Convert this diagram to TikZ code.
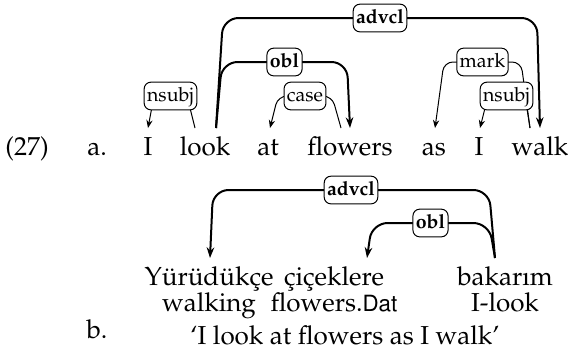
\documentclass[tikz,border=0pt]{standalone}
\usepackage[T1]{fontenc}
\usepackage{mathpazo}
\usepackage[scaled=0.86]{helvet}
\usetikzlibrary{arrows.meta,calc}

\newcommand{\wordsize}{\fontsize{11.7}{14}\selectfont}
\newcommand{\labsize}{\fontsize{8.8}{10}\selectfont}

\tikzset{
  word/.style={anchor=base, inner sep=0pt, font=\wordsize},
  deprel/.style={draw, fill=white, rounded corners=3pt, line width=0.45pt,
    inner xsep=1.3pt, inner ysep=1.3pt, text height=1.6ex, text depth=0.5ex, font=\labsize},
  heavy/.style={line width=0.9pt, rounded corners=7pt, -{Stealth[length=4.8pt,width=3.4pt]}},
  light/.style={line width=0.45pt, rounded corners=4pt},
  tip/.style={-{Stealth[length=3.6pt,width=2.8pt]}}
}

\begin{document}
\begin{tikzpicture}[x=0.45pt,y=-0.45pt]
    \useasboundingbox (0,0) rectangle (568,353);

    % Example (a): the words
    \node[word] (ex) at (27,155) {(27)};
    \node[word] (exa) at (97,155) {a.};
    \node[word] (i1) at (148,155) {I};
    \node[word] (look) at (205,155) {look};
    \node[word] (at) at (268,155) {at};
    \node[word] (flowers) at (350,155) {flowers};
    \node[word] (as) at (434,155) {as};
    \node[word] (i2) at (479,155) {I};
    \node[word] (walk) at (540,155) {walk};

    % Example (a): light arcs
    \draw[light,tip] ($(look.base)+(-10,-27)$) -- (187,96) -- node[deprel]{nsubj} (154,96) -- ($(i1.base)+(0,-27)$);
    \draw[light,tip] ($(flowers.base)+(-9,-27)$) -- (332,96) -- node[deprel]{case} (278,96) -- ($(at.base)+(2,-27)$);
    \draw[light,tip] ($(walk.base)+(-10,-27)$) -- (521,62) -- node[deprel]{mark} (444,62) -- ($(as.base)+(1,-27)$);
    \draw[light,tip] ($(walk.base)+(-10,-27)$) -- (525,96) -- node[deprel]{nsubj} (488,96) -- ($(i2.base)+(1,-27)$);

    % Example (a): heavy arcs
    \draw[heavy] ($(look.base)+(11,-27)$) -- (222,62) -- node[deprel]{\textbf{obl}} (347,62) -- ($(flowers.base)+(0,-27)$);
    \draw[heavy] ($(look.base)+(11,-27)$) -- (223,18) -- node[deprel]{\textbf{advcl}} (537,18) -- ($(walk.base)+(0,-27)$);

    % Example (b): words, glosses and translation
    \node[word] (yur) at (209,285) {Y\"ur\"ud\"uk\c{c}e};
    \node[word] (cicek) at (334,285) {\c{c}i\c{c}eklere};
    \node[word] (bakar) at (505,285) {bakar\i m};
    \node[word] (walking) at (209,311) {walking};
    \node[word] (flowdat) at (334,311) {flowers.\textsf{Dat}};
    \node[word] (ilook) at (505,311) {I-look};
    \node[word] (exb) at (97,338) {b.};
    \node[word] (transl) at (345,344) {`I look at flowers as I walk'};

    % Example (b): heavy arcs
    \draw[heavy] ($(bakar.base)+(-10,-27)$) -- (489,190) -- node[deprel]{\textbf{advcl}} (213,190) -- ($(yur.base)+(1,-27)$);
    \draw[heavy] ($(bakar.base)+(-10,-27)$) -- (489,223) -- node[deprel]{\textbf{obl}} (372,223) -- ($(cicek.base)+(33,-27)$);
\end{tikzpicture}
\end{document}
